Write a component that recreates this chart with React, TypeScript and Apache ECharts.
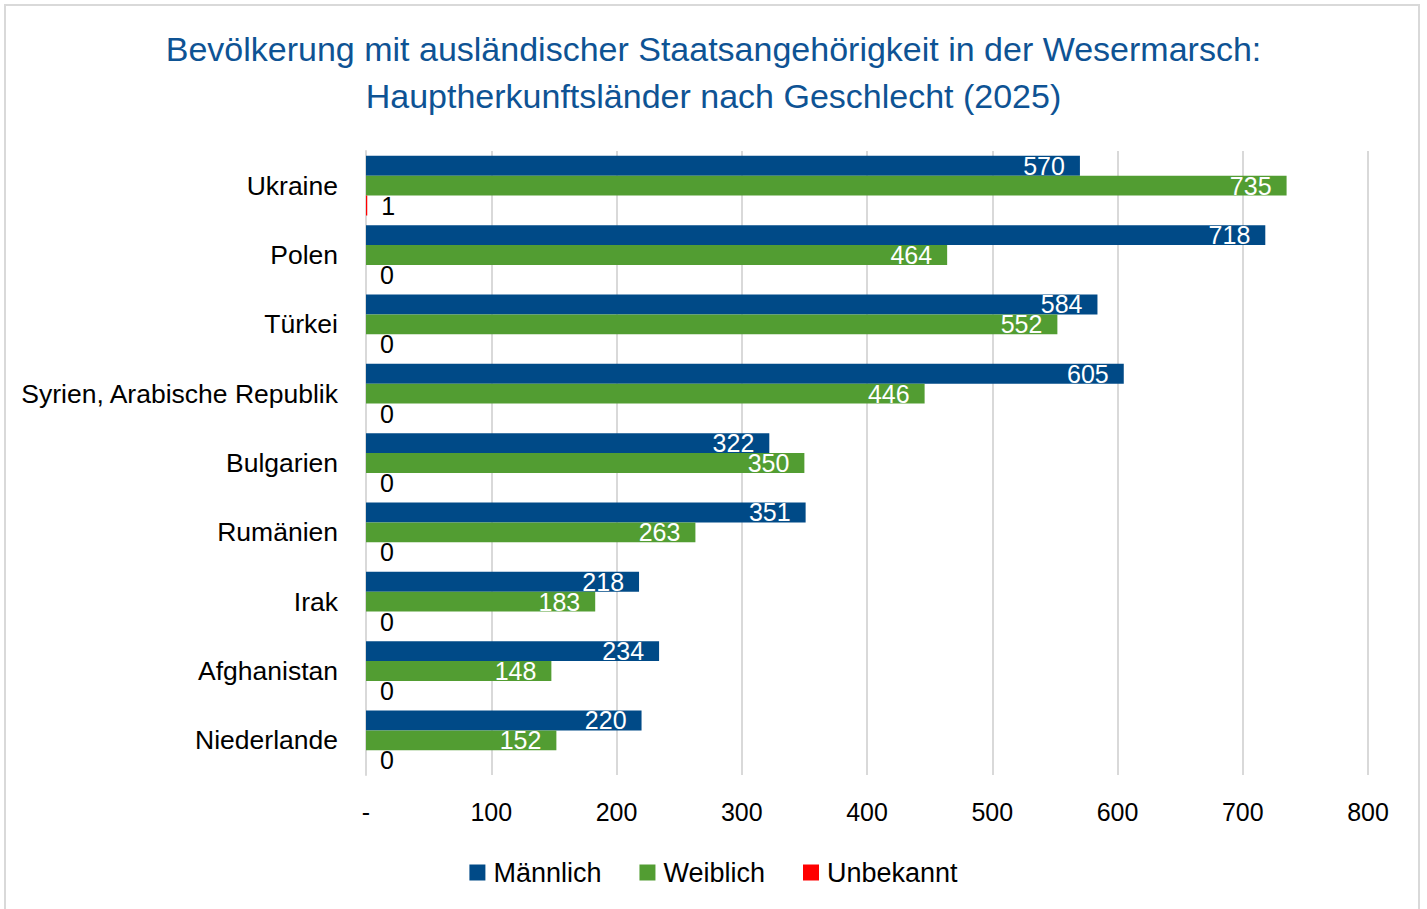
import React, { useEffect, useRef } from "react";
import * as echarts from "echarts";

const categories = [
  "Ukraine",
  "Polen",
  "Türkei",
  "Syrien, Arabische Republik",
  "Bulgarien",
  "Rumänien",
  "Irak",
  "Afghanistan",
  "Niederlande",
];
const maennlich = [570, 718, 584, 605, 322, 351, 218, 234, 220];
const weiblich = [735, 464, 552, 446, 350, 263, 183, 148, 152];
const unbekannt = [1, 0, 0, 0, 0, 0, 0, 0, 0];
const seriesNames = ["Männlich", "Weiblich", "Unbekannt"];
const titleLines = [
  "Bevölkerung mit ausländischer Staatsangehörigkeit in der Wesermarsch:",
  "Hauptherkunftsländer nach Geschlecht (2025)",
];

const FONT = "'Liberation Sans', Arial, sans-serif";

export default function App() {
  const ref = useRef<HTMLDivElement>(null);
  useEffect(() => {
    document.body.style.margin = "0";
    const chart = echarts.init(ref.current!, null, { renderer: "svg" });
    const insideLabel = {
      show: true,
      position: "insideRight",
      distance: 15,
      color: "#ffffff",
      fontSize: 25,
      fontFamily: FONT,
    };
    chart.setOption({
      animation: false,
      backgroundColor: "#ffffff",
      textStyle: { fontFamily: FONT },
      graphic: [
        {
          type: "rect",
          shape: { x: 5, y: 5, width: 1414, height: 1000 },
          style: { fill: "none", stroke: "#d9d9d9", lineWidth: 2 },
          silent: true,
        },
      ],
      title: {
        text: titleLines.join("\n"),
        left: "center",
        top: 20,
        textStyle: {
          color: "#0e5394",
          fontSize: 34,
          fontWeight: "normal",
          fontFamily: FONT,
          lineHeight: 47,
        },
      },
      legend: {
        bottom: 18,
        left: "center",
        itemWidth: 16,
        itemHeight: 16,
        itemGap: 38,
        icon: "rect",
        textStyle: {
          fontSize: 27,
          color: "#000000",
          fontFamily: FONT,
          padding: [0, 0, 0, 3],
        },
        data: seriesNames,
      },
      grid: { left: 366, right: 59, top: 151, bottom: 134, containLabel: false },
      xAxis: {
        type: "value",
        min: 0,
        max: 800,
        interval: 100,
        axisLine: { show: false },
        axisTick: { show: false },
        splitLine: { show: true, lineStyle: { color: "#d9d9d9", width: 2 } },
        axisLabel: {
          fontSize: 25,
          color: "#000000",
          fontFamily: FONT,
          margin: 24,
          formatter: (v: number) => (v === 0 ? "-" : String(v)),
        },
      },
      yAxis: {
        type: "category",
        data: categories,
        inverse: true,
        axisLine: { show: true, lineStyle: { color: "#d9d9d9", width: 2 } },
        axisTick: { show: false },
        axisLabel: {
          fontSize: 26.5,
          color: "#000000",
          fontFamily: FONT,
          margin: 28,
        },
      },
      series: [
        {
          name: seriesNames[0],
          type: "bar",
          data: maennlich,
          itemStyle: { color: "#004a87" },
          barGap: "0%",
          barCategoryGap: "14%",
          label: insideLabel,
        },
        {
          name: seriesNames[1],
          type: "bar",
          data: weiblich,
          itemStyle: { color: "#529d32" },
          label: insideLabel,
        },
        {
          name: seriesNames[2],
          type: "bar",
          data: unbekannt,
          itemStyle: { color: "#ff0000" },
          label: {
            show: true,
            position: "right",
            distance: 14,
            color: "#000000",
            fontSize: 25,
            fontFamily: FONT,
          },
        },
      ],
    });
    return () => chart.dispose();
  }, []);
  return <div ref={ref} style={{ width: 1427, height: 909 }} />;
}
